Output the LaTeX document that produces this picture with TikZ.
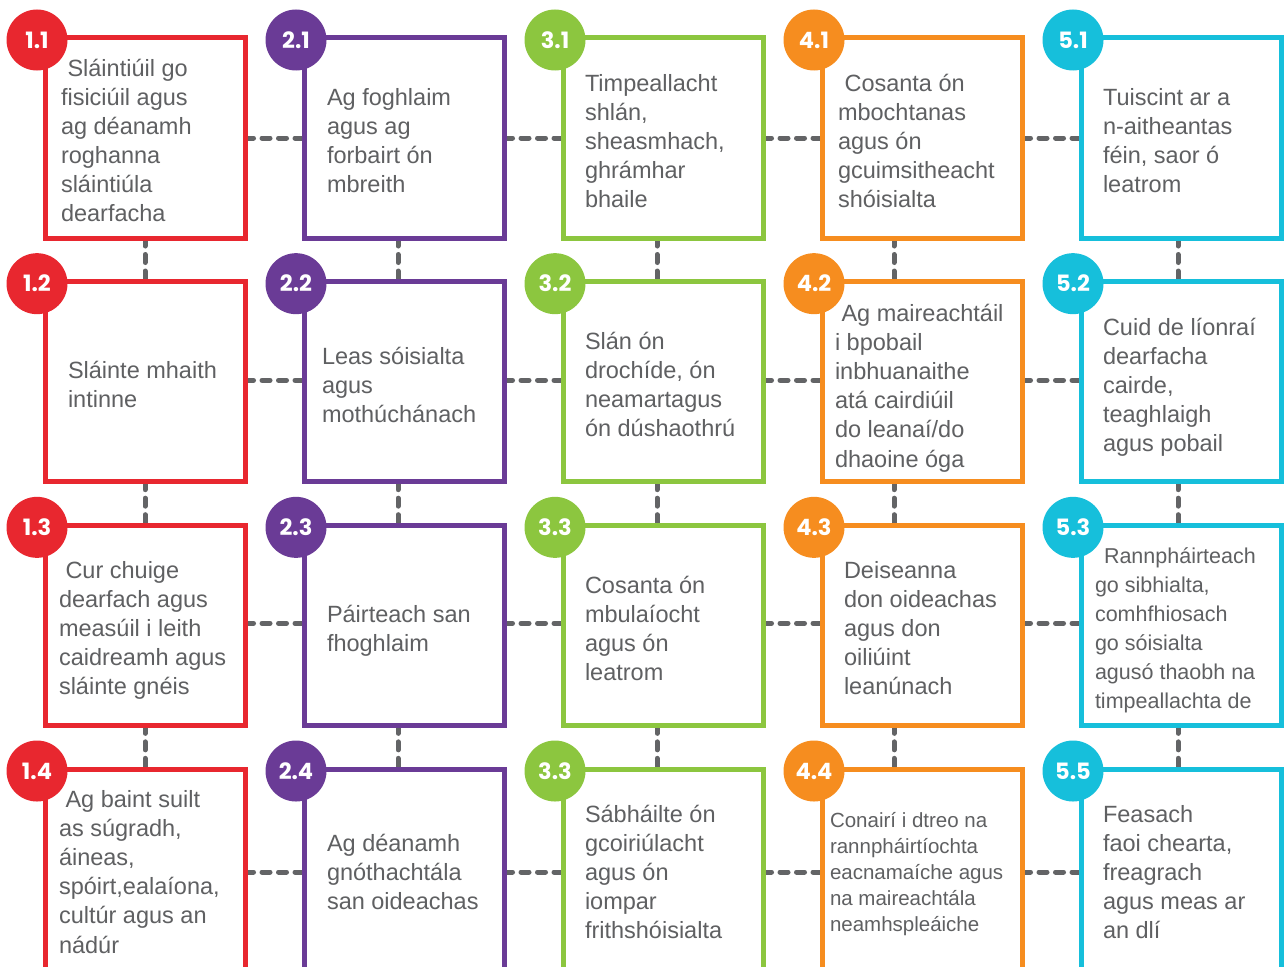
\documentclass[tikz,border=0pt]{standalone}
\usepackage{fontspec}
\setmainfont{Liberation Sans}
\newfontfamily\badgefont{Poppins}
\usetikzlibrary{calc}
\definecolor{cred}{HTML}{E8272F}
\definecolor{cpurple}{HTML}{6A3B96}
\definecolor{cgreen}{HTML}{8CC63F}
\definecolor{corange}{HTML}{F68D1F}
\definecolor{ccyan}{HTML}{16BFDB}
\definecolor{txtgray}{HTML}{5F6062}
\definecolor{dashgray}{HTML}{636466}
\pgfdeclarelayer{background}
\pgfsetlayers{background,main}
\newcommand{\lines}[1]{\begin{tabular}[t]{@{}l@{}}#1\end{tabular}}
\begin{document}
\begin{tikzpicture}[x=1pt,y=-1pt,
  box/.style={draw=#1, line width=5pt, fill=white, minimum width=200pt, minimum height=200pt, inner sep=0pt, outer sep=0pt, anchor=north west},
  badge/.style={circle, fill=#1, minimum size=61pt, inner sep=0pt, text=white, font=\badgefont\bfseries\fontsize{22.5}{22.5}\selectfont},
  link/.style={draw=dashgray, line width=5pt, line cap=round, dash pattern=on 8pt off 8.5pt},
  lbl/.style={anchor=base west, inner sep=0pt, outer sep=0pt, text=txtgray, font=\fontsize{23.5}{29.2}\selectfont},
  lblsmall/.style={anchor=base west, inner sep=0pt, outer sep=0pt, text=txtgray, font=\fontsize{21.5}{29}\selectfont},
  lbltiny/.style={anchor=base west, inner sep=0pt, outer sep=0pt, text=txtgray, font=\fontsize{20.5}{26.2}\selectfont},
]
\useasboundingbox (0,0) rectangle (1284,966);

% boxes
\foreach \c/\col in {1/cred,2/cpurple,3/cgreen,4/corange,5/ccyan}{
  \foreach \r in {1,2,3,4}{
    \node[box=\col] (b\c\r) at ({45.5+259*(\c-1)},{38+243.67*(\r-1)}) {};
  }
}

% connectors
\begin{pgfonlayer}{background}
\foreach \r/\dy in {1/0,2/1.5,3/2,4/-3}{
  \foreach \c/\n in {1/2,2/3,3/4,4/5}{
    \draw[link] ([yshift=\dy]b\c\r.east) -- ([yshift=\dy]b\n\r.west);
  }
}
\foreach \c/\dx in {1/-0.5,2/-6.5,3/-6.5,4/-28.5,5/-3.5}{
  \foreach \r/\n in {1/2,2/3,3/4}{
    \draw[link] ([xshift=\dx]b\c\r.south) -- ([xshift=\dx]b\c\n.north);
  }
}
\end{pgfonlayer}

% badges
\foreach \c/\col in {1/cred,2/cpurple,3/cgreen,4/corange,5/ccyan}{
  \foreach \r/\t in {1/\c.1,2/\c.2,3/\c.3}{
    \node[badge=\col] (d\c\r) at ($(b\c\r.north west)+(-8.5,2)$) {\t};
  }
}
\node[badge=cred] (d14) at ($(b14.north west)+(-8.5,2)$) {1.4};
\node[badge=cpurple] (d24) at ($(b24.north west)+(-8.5,2)$) {2.4};
\node[badge=cgreen] (d34) at ($(b34.north west)+(-8.5,2)$) {3.3};
\node[badge=corange] (d44) at ($(b44.north west)+(-8.5,2)$) {4.4};
\node[badge=ccyan] (d54) at ($(b54.north west)+(-8.5,2)$) {5.5};

% texts row 1
\node[lbl] (t11) at (61,76) {\lines{\ Sláintiúil go\\fisiciúil agus\\ag déanamh\\roghanna\\sláintiúla\\dearfacha}};
\node[lbl] (t21) at (327,105) {\lines{Ag foghlaim\\agus ag\\forbairt ón\\mbreith}};
\node[lbl] (t31) at (585,91) {\lines{Timpeallacht\\shlán,\\sheasmhach,\\ghrámhar\\bhaile}};
\node[lbl] (t41) at (838,91) {\lines{\ Cosanta ón\\mbochtanas\\agus ón\\gcuimsitheacht\\shóisialta}};
\node[lbl] (t51) at (1103,105) {\lines{Tuiscint ar a\\n-aitheantas\\féin, saor ó\\leatrom}};
% row 2
\node[lbl] (t12) at (68,378) {\lines{Sláinte mhaith\\intinne}};
\node[lbl] (t22) at (322,364) {\lines{Leas sóisialta\\agus\\mothúchánach}};
\node[lbl] (t32) at (585,349) {\lines{Slán ón\\drochíde, ón\\neamartagus\\ón dúshaothrú}};
\node[lbl] (t42) at (835,321) {\lines{\ Ag maireachtáil\\i bpobail\\inbhuanaithe\\atá cairdiúil\\do leanaí/do\\dhaoine óga}};
\node[lbl] (t52) at (1103,335) {\lines{Cuid de líonraí\\dearfacha\\cairde,\\teaghlaigh\\agus pobail}};
% row 3
\node[lbl] (t13) at (59,578) {\lines{\ Cur chuige\\dearfach agus\\measúil i leith\\caidreamh agus\\sláinte gnéis}};
\node[lbl] (t23) at (327,622) {\lines{Páirteach san\\fhoghlaim}};
\node[lbl] (t33) at (585,593) {\lines{Cosanta ón\\mbulaíocht\\agus ón\\leatrom}};
\node[lbl] (t43) at (844,578) {\lines{Deiseanna\\don oideachas\\agus don\\oiliúint\\leanúnach}};
\node[lblsmall] (t53) at (1095,563) {\lines{\hspace{9pt}Rannpháirteach\\go sibhialta,\\comhfhiosach\\go sóisialta\\agusó thaobh na\\timpeallachta de}};
% row 4
\node[lbl] (t14) at (59,807) {\lines{\ Ag baint suilt\\as súgradh,\\áineas,\\spóirt,ealaíona,\\cultúr agus an\\nádúr}};
\node[lbl] (t24) at (327,851) {\lines{Ag déanamh\\gnóthachtála\\san oideachas}};
\node[lbl] (t34) at (585,822) {\lines{Sábháilte ón\\gcoiriúlacht\\agus ón\\iompar\\frithshóisialta}};
\node[lbltiny] (t44) at (830,827) {\lines{Conairí i dtreo na\\rannpháirtíochta\\eacnamaíche agus\\na maireachtála\\neamhspleáiche}};
\node[lbl] (t54) at (1103,822) {\lines{Feasach\\faoi chearta,\\freagrach\\agus meas ar\\an dlí}};
\end{tikzpicture}
\end{document}
